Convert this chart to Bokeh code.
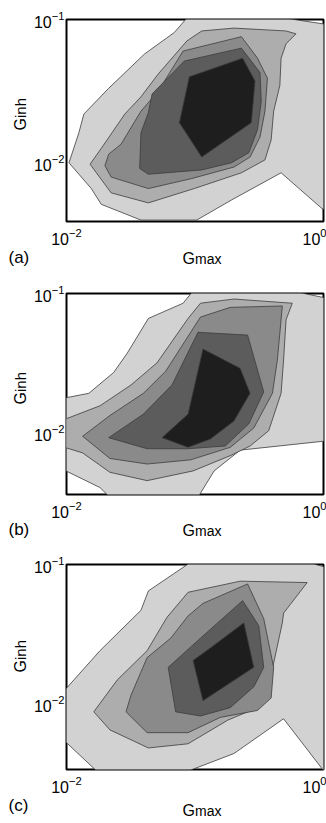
import numpy as np
from bokeh.plotting import figure
from bokeh.layouts import column
from bokeh.models import FixedTicker, Range1d
from bokeh.core.properties import value
from bokeh.embed import file_html
from bokeh.resources import INLINE

# ---------------- data ----------------
gmax_limits = (0.01, 1.18)
ginh_top = 0.1
ginh_bottom_exp = {"a": -2.41, "b": -2.45, "c": -2.475}
x_ticks = [0.01, 1.0]
y_ticks = [0.01, 0.1]
level_colors = ["#d2d2d2", "#adadad", "#8a8a8a", "#5c5c5c", "#1e1e1e"]

# contour region boundaries (log10 Gmax, log10 Ginh), outermost level first
a_log_gmax = [
    [-1.01, -0.24, 0.14, 0.14, 0.06, -0.27, -0.67, -0.95, -1.40, -1.72, -1.80, -1.98, -1.90, -1.86, -1.66, -1.37, -1.13],
    [-1.81, -1.72, -1.53, -1.40, -1.26, -1.03, -0.91, -0.65, -0.23, -0.15, -0.23, -0.27, -0.28, -0.33, -0.35, -0.40, -0.59, -0.97, -1.34, -1.64],
    [-1.69, -1.66, -1.56, -1.40, -1.26, -1.06, -0.59, -0.46, -0.38, -0.40, -0.44, -0.52, -0.65, -0.99, -1.34, -1.64],
    [-1.41, -1.40, -1.34, -1.31, -1.05, -0.59, -0.44, -0.43, -0.46, -0.53, -0.67, -0.91, -1.34],
    [-1.01, -0.58, -0.48, -0.51, -0.91, -1.09],
]
a_log_ginh = [
    [-0.97, -0.99, -1.04, -2.35, -2.32, -2.07, -2.26, -2.40, -2.40, -2.29, -2.18, -2.00, -1.79, -1.66, -1.48, -1.24, -1.09],
    [-2.01, -1.90, -1.66, -1.54, -1.38, -1.15, -1.08, -1.06, -1.08, -1.10, -1.17, -1.27, -1.46, -1.64, -1.84, -1.98, -2.07, -2.18, -2.28, -2.21],
    [-2.02, -1.94, -1.87, -1.64, -1.50, -1.22, -1.12, -1.27, -1.41, -1.64, -1.82, -1.96, -2.03, -2.11, -2.18, -2.10],
    [-2.04, -1.79, -1.65, -1.52, -1.29, -1.20, -1.37, -1.57, -1.77, -1.93, -2.00, -2.05, -2.08],
    [-1.40, -1.27, -1.43, -1.72, -1.96, -1.72],
]

b_log_gmax = [
    [-0.96, -1.06, -1.34, -1.51, -1.62, -1.82, -2.05, -2.05, -1.73, -1.65, -0.94, -0.81, -0.60, 0.13, 0.13, -0.19],
    [-2.05, -1.73, -1.48, -1.27, -1.02, -0.92, -0.65, -0.18, -0.23, -0.25, -0.27, -0.37, -0.52, -0.68, -0.98, -1.35, -1.65, -1.87, -2.05],
    [-1.87, -1.65, -1.38, -1.20, -0.92, -0.68, -0.26, -0.30, -0.34, -0.49, -0.68, -1.00, -1.35, -1.65],
    [-1.66, -1.38, -1.15, -0.94, -0.54, -0.41, -0.53, -0.72, -1.02, -1.35],
    [-1.23, -1.02, -0.90, -0.60, -0.52, -0.65, -0.84, -1.02],
]
b_log_ginh = [
    [-0.96, -1.07, -1.18, -1.43, -1.57, -1.72, -1.76, -2.26, -2.40, -2.47, -2.47, -2.28, -2.13, -2.06, -1.04, -0.98],
    [-1.92, -1.81, -1.66, -1.50, -1.18, -1.07, -1.04, -1.07, -1.19, -1.48, -1.72, -1.99, -2.10, -2.17, -2.28, -2.35, -2.29, -2.15, -2.10],
    [-2.03, -1.88, -1.72, -1.56, -1.17, -1.10, -1.09, -1.48, -1.72, -1.97, -2.11, -2.20, -2.23, -2.19],
    [-2.04, -1.87, -1.66, -1.28, -1.30, -1.71, -1.94, -2.10, -2.12, -2.12],
    [-2.04, -1.87, -1.40, -1.54, -1.72, -1.92, -2.05, -2.11],
]

c_log_gmax = [
    [-0.96, -1.34, -1.40, -1.73, -2.05, -2.05, -1.74, -1.06, -0.65, -0.25, 0.13, 0.13, -0.11],
    [-1.78, -1.59, -1.35, -1.19, -1.02, -0.60, -0.06, -0.25, -0.26, -0.33, -0.38, -0.46, -0.70, -1.02, -1.34, -1.65],
    [-1.52, -1.48, -1.35, -1.16, -1.02, -0.90, -0.54, -0.41, -0.33, -0.35, -0.46, -0.76, -1.02, -1.35],
    [-1.18, -0.92, -0.58, -0.45, -0.41, -0.49, -0.68, -0.92, -1.12],
    [-0.98, -0.84, -0.57, -0.49, -0.90],
]
c_log_ginh = [
    [-0.96, -1.19, -1.33, -1.62, -1.94, -2.24, -2.50, -2.50, -2.36, -2.11, -2.55, -1.03, -0.97],
    [-2.06, -1.83, -1.62, -1.38, -1.20, -1.12, -1.13, -1.35, -1.42, -1.71, -1.91, -2.03, -2.12, -2.29, -2.32, -2.19],
    [-2.06, -1.94, -1.67, -1.53, -1.37, -1.28, -1.14, -1.39, -1.74, -1.96, -2.05, -2.10, -2.21, -2.21],
    [-1.74, -1.53, -1.26, -1.44, -1.74, -1.88, -2.03, -2.09, -2.06],
    [-1.69, -1.60, -1.42, -1.74, -1.98],
]

panel_letters = ["(a)", "(b)", "(c)"]

# ---------------- layout (pixel offsets from the frame corners) ----------------
FONT = "Liberation Sans"
specs = [
    dict(key="a", gx=a_log_gmax, gy=a_log_ginh, h=270, top=19, bottom=49,
         ylab_y=111, xlab_y=37, letter_y=36),
    dict(key="b", gx=b_log_gmax, gy=b_log_ginh, h=270, top=23, bottom=46,
         ylab_y=111, xlab_y=36, letter_y=35),
    dict(key="c", gx=c_log_gmax, gy=c_log_ginh, h=283, top=24, bottom=54,
         ylab_y=108, xlab_y=41, letter_y=36),
]


def add_text(p, x, y, txt, dx, dy, size, angle=0.0):
    p.text(x=[x], y=[y], text=[txt], x_offset=dx, y_offset=dy, angle=angle,
           text_font=value(FONT), text_font_size=size, text_color="black",
           text_baseline="alphabetic", text_align="left", level="overlay")


def make_panel(spec, letter):
    y_bottom = 10 ** ginh_bottom_exp[spec["key"]]
    p = figure(width=326, height=spec["h"], x_axis_type="log", y_axis_type="log",
               x_range=Range1d(*gmax_limits), y_range=Range1d(y_bottom, ginh_top),
               output_backend="svg", toolbar_location=None,
               min_border_left=66, min_border_right=3,
               min_border_top=spec["top"], min_border_bottom=spec["bottom"],
               background_fill_color="white", border_fill_color="white")
    p.grid.visible = False
    for i, (lx, ly) in enumerate(zip(spec["gx"], spec["gy"])):
        p.patch(10 ** np.array(lx), 10 ** np.array(ly), fill_color=level_colors[i],
                line_color="#3c3c3c", line_width=0.8)
    p.xaxis.ticker = FixedTicker(ticks=x_ticks)
    p.yaxis.ticker = FixedTicker(ticks=y_ticks)
    for ax in (p.xaxis[0], p.yaxis[0]):
        ax.major_tick_out = 0
        ax.major_tick_in = 0
        ax.minor_tick_out = 0
        ax.minor_tick_in = 0
        ax.axis_line_color = None
        ax.major_label_text_font = FONT
        ax.major_label_text_font_size = "16px"
        ax.major_label_text_color = "black"
    p.xaxis.major_label_standoff = 6
    p.yaxis.major_label_standoff = 2
    p.outline_line_color = "black"
    p.outline_line_width = 2
    p.outline_line_alpha = 1.0

    x0 = gmax_limits[0]
    # x label "Gmax" and panel letter, below the frame's bottom-left corner
    add_text(p, x0, y_bottom, "G", 116, spec["xlab_y"], "16px")
    add_text(p, x0, y_bottom, "max", 128.5, spec["xlab_y"], "14px")
    add_text(p, x0, y_bottom, letter, -58, spec["letter_y"], "17px")
    # y label "Ginh", left of the frame's top-left corner
    add_text(p, x0, ginh_top, "G", -46, spec["ylab_y"], "16px", np.pi / 2)
    add_text(p, x0, ginh_top, "inh", -46, spec["ylab_y"] - 12.5, "15px", np.pi / 2)
    return p


panels = [make_panel(s, l) for s, l in zip(specs, panel_letters)]
layout = column(*panels, spacing=0)
open("out.html", "w").write(file_html(layout, INLINE))
